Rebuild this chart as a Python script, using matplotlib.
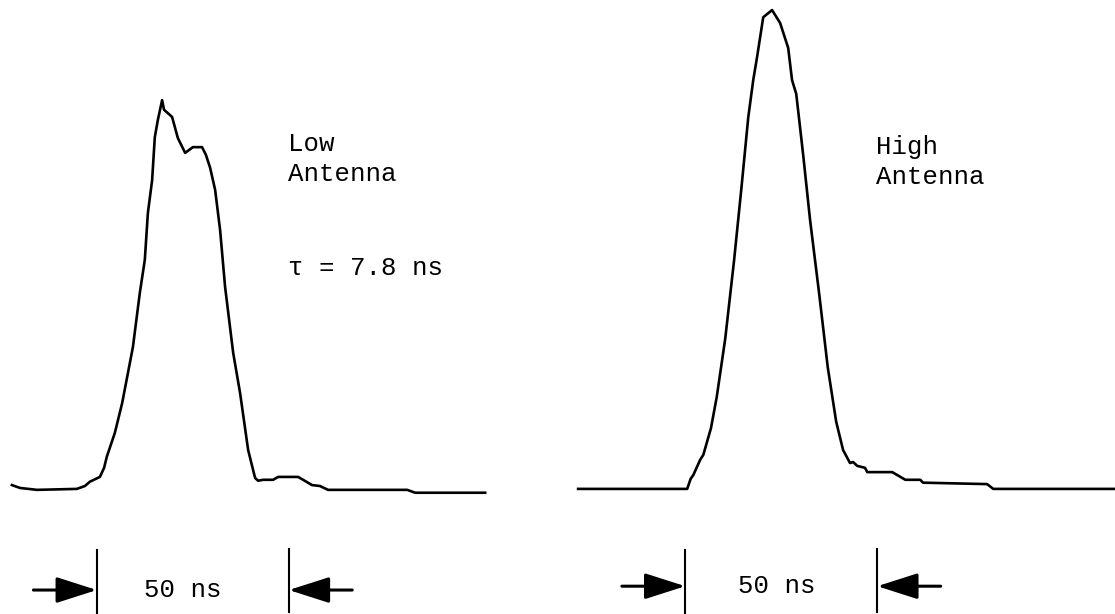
import numpy as np
import matplotlib.pyplot as plt

# pulse traces, time in ns, amplitude relative to the high-antenna peak
low_t = [0, 2.1, 6.5, 16.9, 19.0, 20.3, 22.9, 24.0, 24.7, 26.8, 28.7, 31.5, 33.3, 34.6,
         35.4, 36.5, 37.2, 38.0, 39.1, 39.6, 41.7, 43.2, 45.1, 47.1, 49.5, 50.5, 51.6,
         52.9, 54.2, 55.5, 57.6, 59.4, 61.5, 63.3, 64.1, 65.4, 68.0, 69.3, 74.5, 75.8,
         78.1, 80.2, 82.3, 102.9, 105.0, 123.2]
low_a = [0.009, 0.003, -0.001, 0.001, 0.007, 0.016, 0.026, 0.045, 0.068, 0.118, 0.180,
         0.297, 0.410, 0.479, 0.577, 0.645, 0.735, 0.771, 0.812, 0.792, 0.777, 0.733,
         0.702, 0.714, 0.714, 0.698, 0.671, 0.625, 0.541, 0.422, 0.285, 0.201, 0.082,
         0.024, 0.018, 0.020, 0.020, 0.026, 0.026, 0.020, 0.009, 0.007, -0.001, -0.001,
         -0.007, -0.007]

high_t = [0, 28.4, 29.3, 30.0, 31.8, 32.6, 34.6, 36.1, 38.3, 40.6, 42.5, 44.3, 45.6,
          46.6, 48.2, 50.5, 52.6, 54.7, 55.7, 56.8, 58.6, 60.4, 62.8, 65.0, 67.2, 69.0,
          70.8, 71.6, 72.7, 74.7, 75.3, 81.8, 85.2, 89.1, 89.8, 106.5, 108.1, 139.8]
high_a = [0.001, 0.001, 0.022, 0.030, 0.062, 0.072, 0.128, 0.193, 0.314, 0.477, 0.627,
          0.776, 0.854, 0.902, 0.985, 1.000, 0.973, 0.921, 0.854, 0.825, 0.698, 0.562,
          0.406, 0.255, 0.141, 0.082, 0.055, 0.057, 0.049, 0.045, 0.036, 0.036, 0.020,
          0.020, 0.014, 0.011, 0.001, 0.001]

labels = ["Low\nAntenna", "High\nAntenna"]
tau_label = "τ = 7.8 ns"
scale_label = "50 ns"
scale_start = [22.1, 27.9]   # where the 50 ns marker begins on each trace
scale_len = 50

font = "Liberation Mono"

fig = plt.figure(figsize=(11.15, 6.14), dpi=100)
ax1 = fig.add_axes([0, 0, 557 / 1115, 1])
ax2 = fig.add_axes([557 / 1115, 0, 558 / 1115, 1])

ax1.plot(low_t, low_a, color="black", lw=1.9, solid_joinstyle="round")
ax2.plot(high_t, high_a, color="black", lw=1.9, solid_joinstyle="round")

ax1.set_xlim(-3.1, 141.9)
ax2.set_xlim(-5.5, 139.8)
for ax in (ax1, ax2):
    ax.set_ylim(-0.26, 1.021)
    ax.axis("off")

# va="baseline" on two lines pins the lower line
ax1.text(71.9, 0.643, labels[0], fontsize=18.5, family=font, va="baseline",
         linespacing=1.3)
ax1.text(71.9, 0.447, tau_label, fontsize=18.5, family=font, va="baseline")
ax2.text(77.5, 0.637, labels[1], fontsize=18.5, family=font, va="baseline",
         linespacing=1.3)

# 50 ns scale markers under each trace
for ax, t0, ya, tx in zip((ax1, ax2), scale_start, (-0.21, -0.202), (22.5, 23.9)):
    t1 = t0 + scale_len
    ax.plot([t0, t0], [-0.127, -0.258], color="black", lw=1.5)
    ax.plot([t1, t1], [-0.125, -0.256], color="black", lw=1.5)
    ax.annotate("", xy=(t0, ya), xytext=(t0 - 16.5, ya),
                arrowprops=dict(arrowstyle="-|>,head_length=2.5,head_width=0.8",
                                color="black", lw=2.2, shrinkA=0, shrinkB=0,
                                mutation_scale=10))
    ax.annotate("", xy=(t1, ya), xytext=(t1 + 16.5, ya),
                arrowprops=dict(arrowstyle="-|>,head_length=2.5,head_width=0.8",
                                color="black", lw=2.2, shrinkA=0, shrinkB=0,
                                mutation_scale=10))
    ax.text(t0 + tx, ya, scale_label, fontsize=18.5, family=font,
            ha="center", va="center")

fig.savefig("out.png", dpi=100)
